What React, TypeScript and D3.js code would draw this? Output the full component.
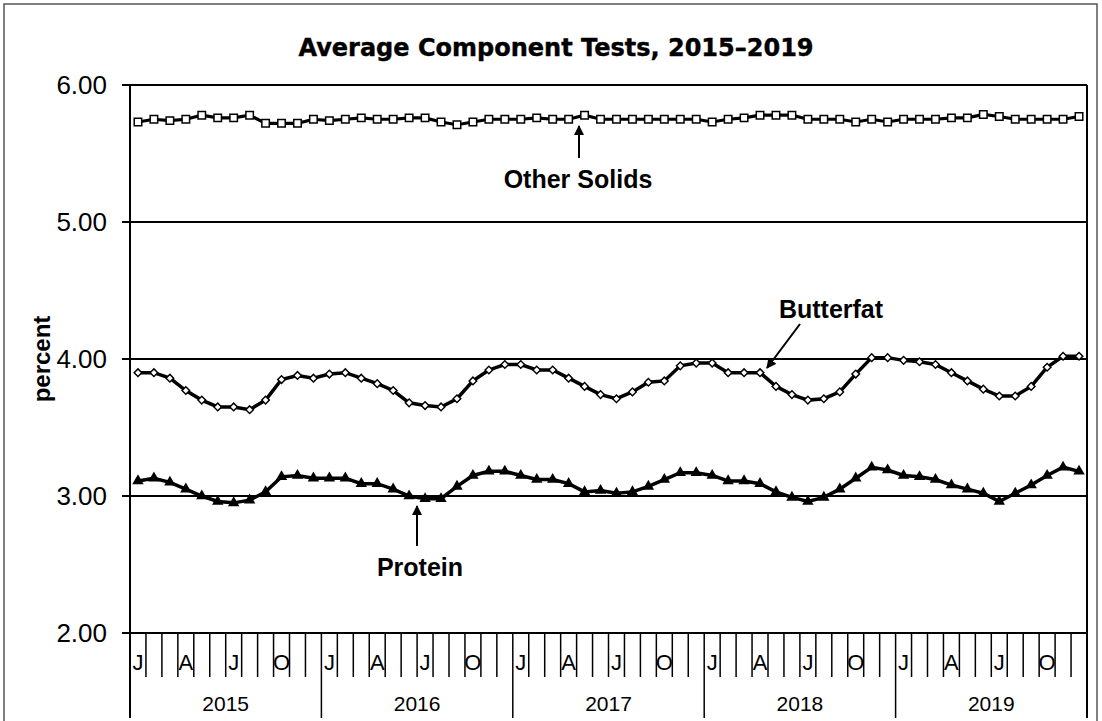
import * as d3 from "d3";

const years = ["2015", "2016", "2017", "2018", "2019"];
const monthLetters = ["J", "", "", "A", "", "", "J", "", "", "O", "", ""];
const yTicks = [2, 3, 4, 5, 6];

// percent, Jan 2015 .. Dec 2019
const otherSolids = [
  5.73, 5.75, 5.74, 5.75, 5.78, 5.76, 5.76, 5.78, 5.72, 5.72, 5.72, 5.75,
  5.74, 5.75, 5.76, 5.75, 5.75, 5.76, 5.76, 5.73, 5.71, 5.73, 5.75, 5.75,
  5.75, 5.76, 5.75, 5.75, 5.78, 5.75, 5.75, 5.75, 5.75, 5.75, 5.75, 5.75,
  5.73, 5.75, 5.76, 5.78, 5.78, 5.78, 5.75, 5.75, 5.75, 5.73, 5.75, 5.73,
  5.75, 5.75, 5.75, 5.76, 5.76, 5.785, 5.77, 5.75, 5.75, 5.75, 5.75, 5.77,
];
const butterfat = [
  3.9, 3.9, 3.86, 3.77, 3.7, 3.65, 3.65, 3.63, 3.7, 3.85, 3.88, 3.86,
  3.89, 3.9, 3.86, 3.82, 3.77, 3.68, 3.66, 3.65, 3.71, 3.84, 3.92, 3.96,
  3.96, 3.92, 3.92, 3.86, 3.8, 3.74, 3.71, 3.76, 3.83, 3.84, 3.95, 3.97,
  3.97, 3.9, 3.9, 3.9, 3.8, 3.74, 3.7, 3.71, 3.76, 3.89, 4.01, 4.01,
  3.99, 3.98, 3.96, 3.9, 3.84, 3.78, 3.73, 3.73, 3.8, 3.94, 4.02, 4.02,
];
const protein = [
  3.11, 3.13, 3.1, 3.05, 3.0, 2.96, 2.95, 2.97, 3.03, 3.14, 3.15, 3.13,
  3.13, 3.13, 3.09, 3.09, 3.05, 3.0, 2.98, 2.98, 3.07, 3.15, 3.18, 3.18,
  3.15, 3.12, 3.12, 3.09, 3.03, 3.04, 3.02, 3.03, 3.07, 3.12, 3.17, 3.17,
  3.15, 3.11, 3.11, 3.09, 3.03, 2.99, 2.96, 2.99, 3.05, 3.13, 3.21, 3.19,
  3.15, 3.14, 3.12, 3.08, 3.05, 3.02, 2.96, 3.02, 3.08, 3.15, 3.21, 3.18,
];

const W = 1102;
const H = 721;
const left = 130;
const right = 1087;
const top = 85;
const bottom = 633;

const sans = "'Liberation Sans', Arial, sans-serif";

export default function App() {
  const nMonths = otherSolids.length;
  const x = d3.scaleLinear().domain([0, nMonths]).range([left, right]);
  const y = d3.scaleLinear().domain([2, 6]).range([bottom, top]);
  const cx = (i: number) => x(i + 0.5);

  const line = d3
    .line<number>()
    .x((_, i) => cx(i))
    .y((d) => y(d));

  const square = d3.symbol(d3.symbolSquare, 56)();
  const triangle = d3.symbol(d3.symbolTriangle, 56)();

  const months = d3.range(nMonths);

  return (
    <svg
      width={W}
      height={H}
      style={{ position: "absolute", left: 0, top: 0, background: "#fff" }}
    >
      <defs>
        <marker
          id="arr"
          viewBox="0 0 10 10"
          refX="9"
          refY="5"
          markerWidth="5"
          markerHeight="5"
          orient="auto"
        >
          <path d="M0,0 L10,5 L0,10 z" fill="#000" />
        </marker>
      </defs>

      <rect x={4} y={4} width={1093} height={740} fill="none" stroke="#555" strokeWidth={1.5} />

      <text
        x={556}
        y={56}
        textAnchor="middle"
        fontFamily="'DejaVu Sans', Verdana, sans-serif"
        fontWeight="bold"
        fontSize={24}
        stroke="#000"
        strokeWidth={0.4}
      >
        Average Component Tests, 2015–2019
      </text>

      {/* gridlines and y ticks */}
      {yTicks.map((t) => (
        <g key={t}>
          <line x1={left - 8} x2={right} y1={y(t)} y2={y(t)} stroke="#000" strokeWidth={2} />
          <text
            x={107}
            y={y(t)}
            dy="0.36em"
            textAnchor="end"
            fontFamily={sans}
            fontSize={26}
          >
            {t.toFixed(2)}
          </text>
        </g>
      ))}
      <line x1={left} x2={left} y1={top} y2={718} stroke="#000" strokeWidth={2} />
      <line x1={right} x2={right} y1={top} y2={718} stroke="#000" strokeWidth={2} />

      <text
        transform={`translate(50,${(top + bottom) / 2}) rotate(-90)`}
        textAnchor="middle"
        fontFamily={sans}
        fontWeight="bold"
        fontSize={24}
      >
        percent
      </text>

      {/* month ticks and letters */}
      {months.map((i) => (
        <g key={i}>
          {i % 12 !== 0 && (
            <line x1={x(i)} x2={x(i)} y1={bottom} y2={677} stroke="#000" strokeWidth={1.5} />
          )}
          {monthLetters[i % 12] && (
            <text
              x={cx(i)}
              y={670}
              textAnchor="middle"
              fontFamily={sans}
              fontSize={22}
            >
              {monthLetters[i % 12]}
            </text>
          )}
        </g>
      ))}
      {years.map((yr, k) => (
        <g key={yr}>
          <line x1={x(k * 12)} x2={x(k * 12)} y1={bottom} y2={718} stroke="#000" strokeWidth={1.5} />
          <text
            x={x(k * 12 + 6)}
            y={711}
            textAnchor="middle"
            fontFamily={sans}
            fontSize={21}
          >
            {yr}
          </text>
        </g>
      ))}

      {/* series */}
      <path d={line(otherSolids) ?? ""} fill="none" stroke="#000" strokeWidth={3.2} />
      {otherSolids.map((v, i) => (
        <path
          key={i}
          d={square}
          transform={`translate(${cx(i)},${y(v)})`}
          fill="#fff"
          stroke="#000"
          strokeWidth={1.5}
        />
      ))}

      <path d={line(butterfat) ?? ""} fill="none" stroke="#000" strokeWidth={3.5} />
      {butterfat.map((v, i) => (
        <path
          key={i}
          d={square}
          transform={`translate(${cx(i)},${y(v)}) rotate(45) scale(0.72)`}
          fill="#fff"
          stroke="#000"
          strokeWidth={2}
        />
      ))}

      <path d={line(protein) ?? ""} fill="none" stroke="#000" strokeWidth={3.5} />
      {protein.map((v, i) => (
        <path key={i} d={triangle} transform={`translate(${cx(i)},${y(v)})`} fill="#000" />
      ))}

      {/* annotations */}
      <line x1={579} x2={579} y1={158} y2={126} stroke="#000" strokeWidth={2} markerEnd="url(#arr)" />
      <text x={578} y={188} textAnchor="middle" fontFamily={sans} fontWeight="bold" fontSize={25}>
        Other Solids
      </text>

      <line x1={800} x2={767} y1={324} y2={368} stroke="#000" strokeWidth={2} markerEnd="url(#arr)" />
      <text x={831} y={318} textAnchor="middle" fontFamily={sans} fontWeight="bold" fontSize={25}>
        Butterfat
      </text>

      <line x1={417} x2={417} y1={546} y2={506} stroke="#000" strokeWidth={2} markerEnd="url(#arr)" />
      <text x={420} y={576} textAnchor="middle" fontFamily={sans} fontWeight="bold" fontSize={25}>
        Protein
      </text>
    </svg>
  );
}
